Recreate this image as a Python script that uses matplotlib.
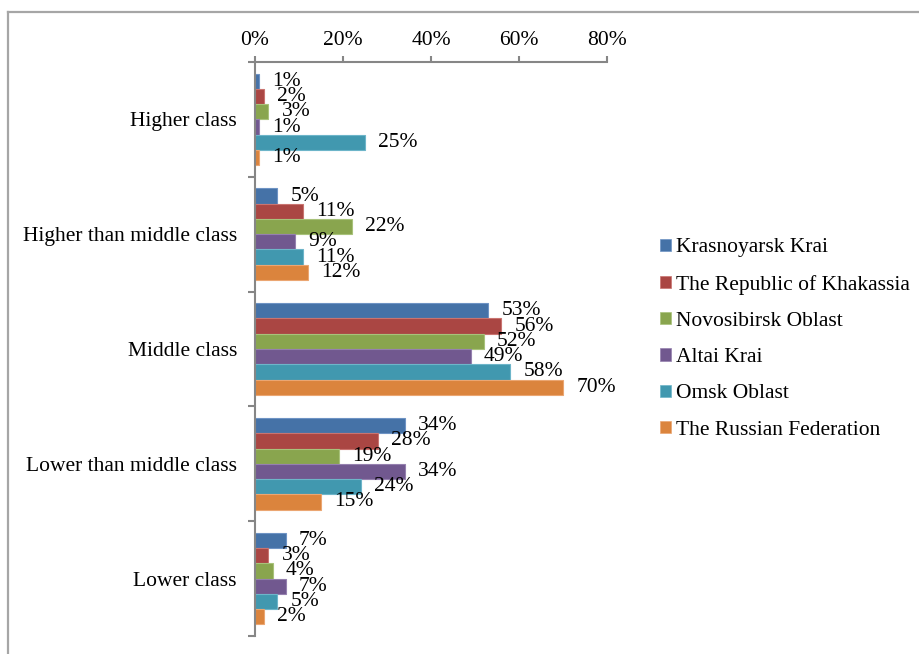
import matplotlib
matplotlib.use("Agg")
import matplotlib.pyplot as plt
from matplotlib.patches import Patch
from matplotlib.lines import Line2D
import numpy as np

plt.rcParams['font.family'] = ['Liberation Serif', 'DejaVu Serif']

categories = ["Higher class", "Higher than middle class", "Middle class",
              "Lower than middle class", "Lower class"]
series_names = ["Krasnoyarsk Krai", "The Republic of Khakassia", "Novosibirsk Oblast",
                "Altai Krai", "Omsk Oblast", "The Russian Federation"]
krasnoyarsk = [1, 5, 53, 34, 7]
khakassia = [2, 11, 56, 28, 3]
novosibirsk = [3, 22, 52, 19, 4]
altai = [1, 9, 49, 34, 7]
omsk = [25, 11, 58, 24, 5]
russia = [1, 12, 70, 15, 2]
series_values = [krasnoyarsk, khakassia, novosibirsk, altai, omsk, russia]
x_ticks = [0, 20, 40, 60, 80]
x_tick_labels = ["0%", "20%", "40%", "60%", "80%"]

colors = ['#4572A7', '#AA4643', '#89A54E', '#71588F', '#4198AF', '#DB843D']
edge_colors = ['#6E93C4', '#C97470', '#A8C27A', '#9580AF', '#6DB5C9', '#EBA672']

FS = 15.5
W, H = 919, 654
fig = plt.figure(figsize=(W / 100, H / 100), dpi=100)
ax = fig.add_axes([255 / W, 1 - 636 / H, (607 - 255) / W, (636 - 62) / H])

n = len(series_names)
bh = 0.133
y = np.arange(len(categories))
for j, (name, vals) in enumerate(zip(series_names, series_values)):
    pos = y + (j - (n - 1) / 2) * bh
    ax.barh(pos, vals, height=bh, color=colors[j], edgecolor=edge_colors[j],
            linewidth=0.8, label=name)
    for p, v in zip(pos, vals):
        ax.annotate(f"{v}%", xy=(v, p), xytext=(9.5, 0), textcoords='offset points',
                    ha='left', va='center', fontsize=FS, color='black')

ax.set_xlim(0, 80)
ax.set_ylim(len(categories) - 0.5, -0.5)
ax.xaxis.tick_top()
ax.set_xticks(x_ticks)
ax.set_xticklabels(x_tick_labels, fontsize=FS)
ax.tick_params(axis='x', direction='out', length=4, width=1.5, color='#868686', pad=4.5)

ax.set_yticks(y)
ax.set_yticklabels(categories, fontsize=FS)
ax.set_yticks(np.arange(-0.5, len(categories)), minor=True)
ax.tick_params(axis='y', which='major', length=0, pad=13)
ax.tick_params(axis='y', which='minor', direction='out', length=5, width=1.5, color='#868686')

for s in ['right', 'bottom']:
    ax.spines[s].set_visible(False)
for s in ['left', 'top']:
    ax.spines[s].set_color('#868686')
    ax.spines[s].set_linewidth(1.5)

handles = [Patch(facecolor=colors[j], edgecolor=edge_colors[j], linewidth=0.5)
           for j in range(n)]
fig.legend(handles, series_names, loc='center left',
           bbox_to_anchor=(660 / W, 1 - 339 / H), frameon=False, fontsize=FS,
           handlelength=0.5, handleheight=0.5, handletextpad=0.25,
           labelspacing=0.8, borderpad=0, borderaxespad=0)

# outer frame lines (top and left)
fig.add_artist(Line2D([8 / W, 1], [1 - 12 / H, 1 - 12 / H], color='#A6A6A6', lw=1.6,
                      transform=fig.transFigure))
fig.add_artist(Line2D([8 / W, 8 / W], [0, 1 - 12 / H], color='#A6A6A6', lw=1.6,
                      transform=fig.transFigure))

fig.savefig("out.png", dpi=100)
